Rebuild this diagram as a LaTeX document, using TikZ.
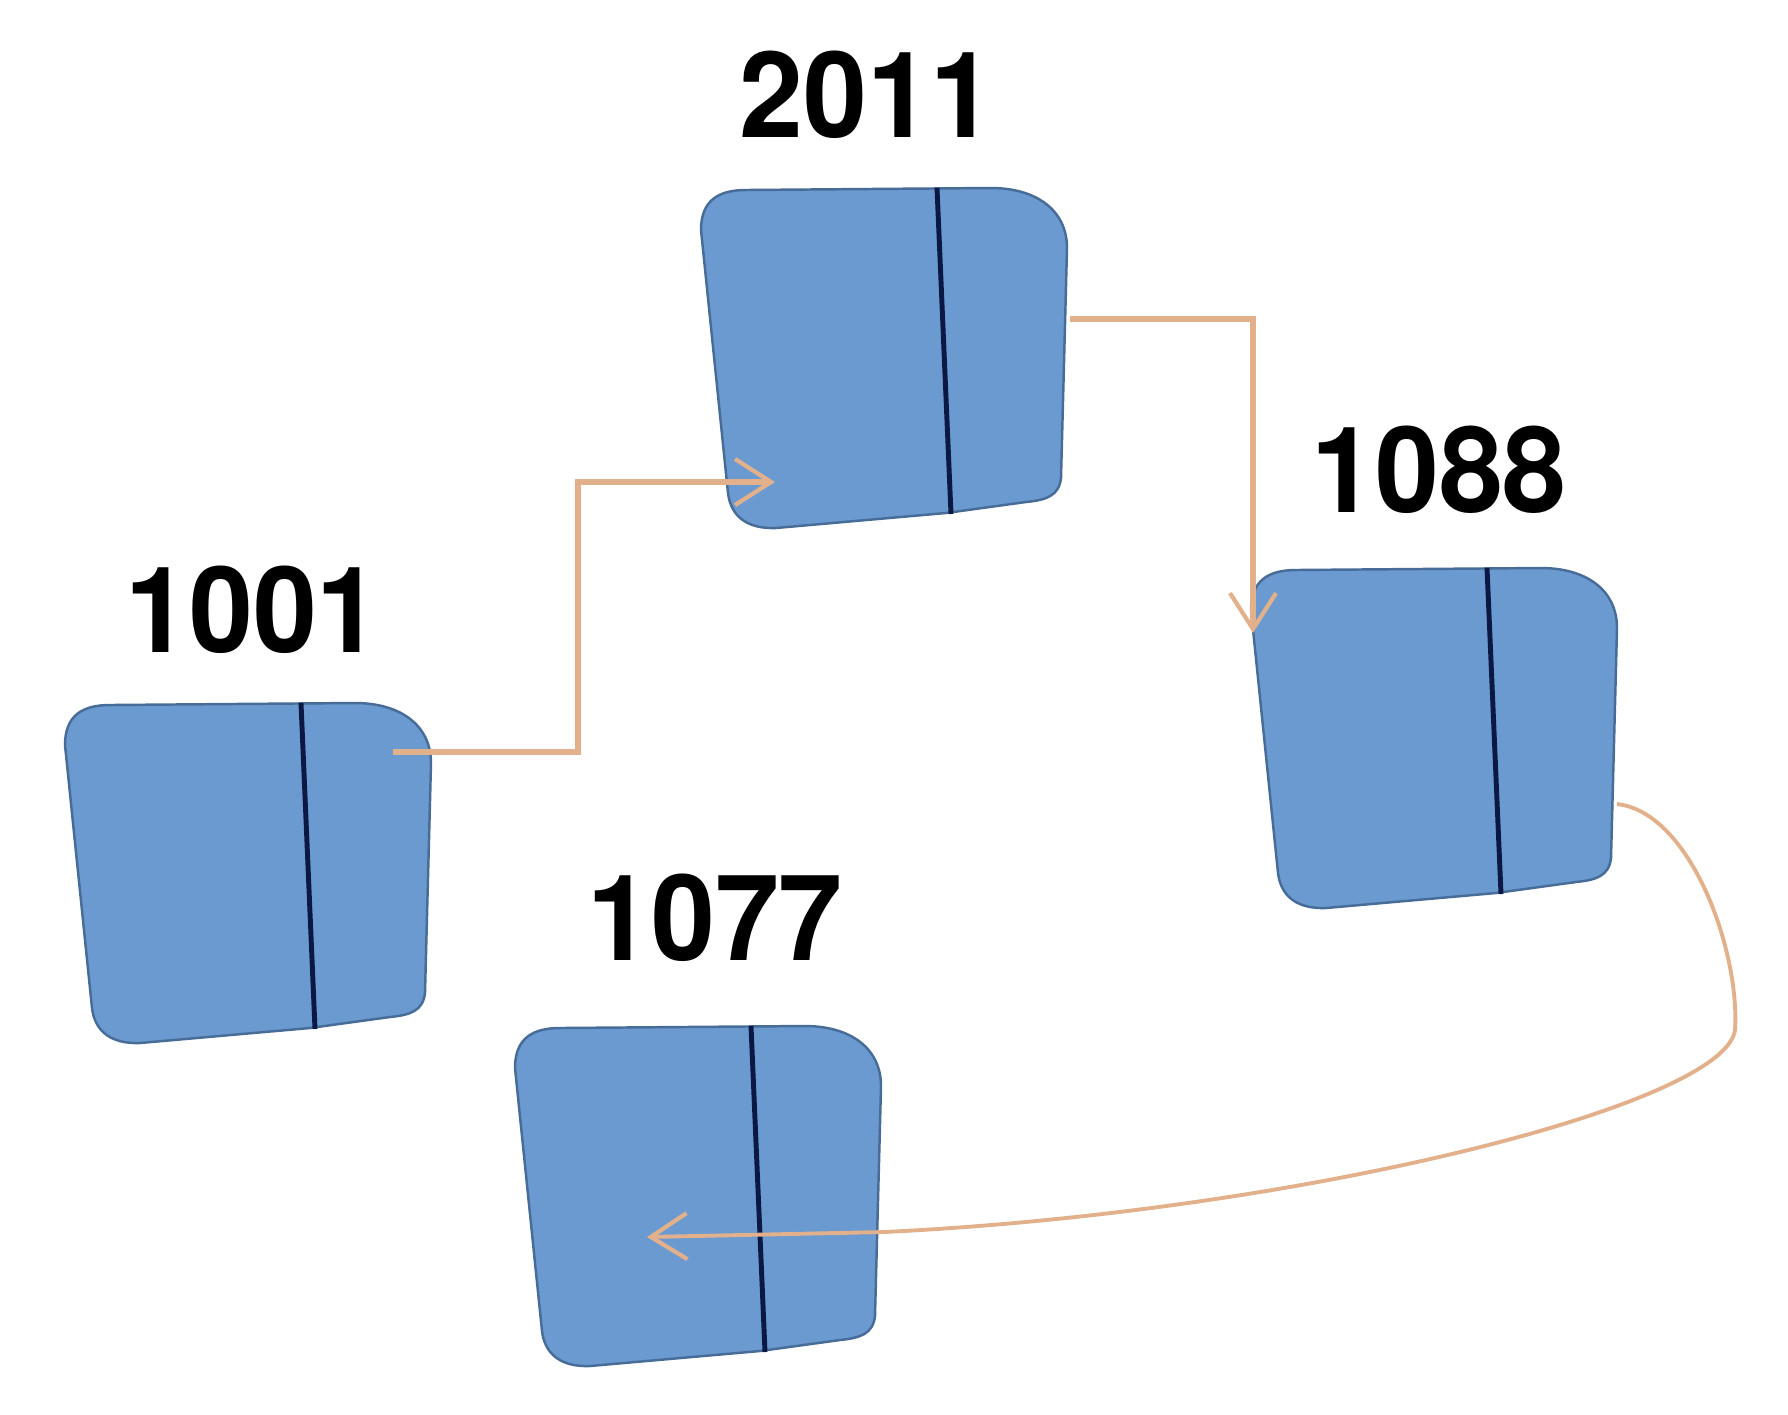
\documentclass[tikz,border=0pt]{standalone}
\usepackage{fontspec}
\setmainfont{TeX Gyre Heros}
\usetikzlibrary{arrows.meta}

\definecolor{cellfill}{RGB}{106,154,208}
\definecolor{celledge}{RGB}{72,108,152}
\definecolor{cellbar}{RGB}{12,24,68}
\definecolor{linkcol}{RGB}{226,176,138}

\tikzset{
  cell/.pic={
    \path[fill=cellfill,draw=celledge,line width=0.7pt]
      (0,42) .. controls (0,12) and (18,2) .. (45,2) -- (290,0)
      .. controls (335,0) and (366,22) .. (366,60) -- (360,290)
      .. controls (358,308) and (345,312) .. (325,314) -- (245,325)
      -- (75,340) .. controls (48,341) and (30,330) .. (27,305) -- cycle;
    \draw[cellbar,line width=1.4pt] (236,0) -- (250,326);
  },
  num/.style={font=\fontsize{34}{38}\selectfont\bfseries},
  link/.style={draw=linkcol,line width=1.6pt,
    -{Straight Barb[length=0.36cm,width=0.46cm,line width=1.2pt]}}
}

\begin{document}
\begin{tikzpicture}[x=0.01cm,y=-0.01cm]

\useasboundingbox (0,0) rectangle (1788,1414);

\pic at (65,703) {cell};
\pic at (701,188) {cell};
\pic at (1251,568) {cell};
\pic at (515,1026) {cell};

\node[num] (L1001) at (253,610) {\scalebox{0.96}[1]{1001}};
\node[num] (L2011) at (867,95) {\scalebox{0.96}[1]{2011}};
\node[num] (L1088) at (1439,470) {\scalebox{0.96}[1]{1088}};
\node[num] (L1077) at (715,918) {\scalebox{0.96}[1]{1077}};

% ends of the links
\coordinate (o1001) at (393,752);
\coordinate (i2011) at (775,482);
\coordinate (o2011) at (1070,319);
\coordinate (i1088) at (1253,633);
\coordinate (o1088) at (1617,804);
\coordinate (i1077) at (647,1237);

\draw[link] (o1001) -- ++(185,0) |- (i2011);
\draw[link] (o2011) -| (i1088);
\draw[link,line width=1.1pt] (o1088) .. controls (1690,812) and (1740,950) .. (1735,1030)
  .. controls (1725,1105) and (1300,1212) .. (884,1232) -- (i1077);

\end{tikzpicture}
\end{document}
